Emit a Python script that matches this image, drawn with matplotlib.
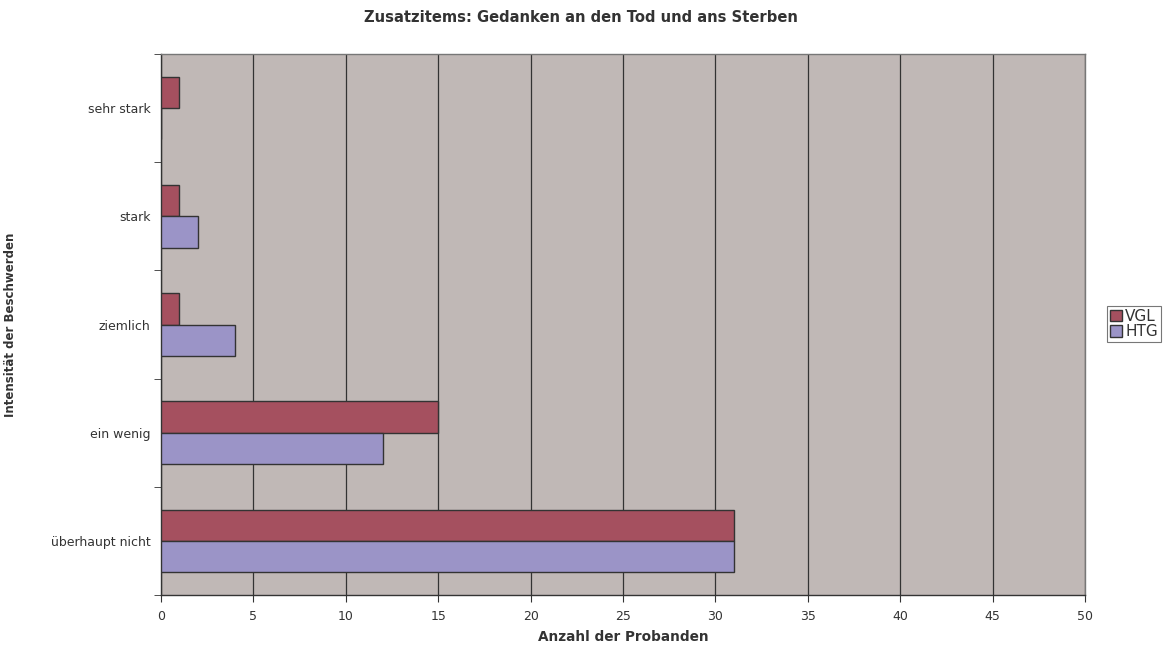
import matplotlib
matplotlib.use("Agg")
import matplotlib.pyplot as plt
import numpy as np
from matplotlib.patches import Patch

plt.rcParams['font.family'] = ['DejaVu Sans']

categories = ["überhaupt nicht", "ein wenig", "ziemlich", "stark", "sehr stark"]
series_names = ["VGL", "HTG"]
vgl = [31, 15, 1, 1, 1]
htg = [31, 12, 4, 2, 0]
x_ticks = [0, 5, 10, 15, 20, 25, 30, 35, 40, 45, 50]

col_vgl = "#A5505F"
col_htg = "#9B94C7"
bg = "#C0B8B6"
txt = "#333333"

fig = plt.figure(figsize=(11.75, 6.51), dpi=100)
ax = fig.add_axes([161/1175, 1-595/651, (1085-161)/1175, (595-54)/651])
ax.set_facecolor(bg)

y = np.arange(len(categories))
h = 0.29
ax.barh(y + h/2, vgl, height=h, color=col_vgl, edgecolor="#333333", linewidth=1.0, zorder=3, label=series_names[0])
ax.barh(y - h/2, htg, height=h, color=col_htg, edgecolor="#333333", linewidth=1.0, zorder=3, label=series_names[1])

ax.set_xlim(0, 50)
ax.set_ylim(-0.5, len(categories) - 0.5)
ax.set_xticks(x_ticks)
ax.set_xticklabels([str(t) for t in x_ticks], fontsize=9, color=txt)
ax.set_yticks(y)
ax.set_yticklabels(categories, fontsize=9, color=txt)
ax.set_yticks(np.arange(len(categories) + 1) - 0.5, minor=True)
ax.tick_params(axis='y', which='major', length=0, pad=7.5)
ax.tick_params(axis='y', which='minor', length=5, color="#333333", direction='out')
ax.tick_params(axis='x', which='major', length=5, color="#333333", direction='out', pad=6)
ax.xaxis.grid(True, color="#333333", linewidth=0.9, zorder=1)
ax.set_axisbelow(True)

for s in ["left", "bottom"]:
    ax.spines[s].set_color("#333333")
    ax.spines[s].set_linewidth(1.0)
for s in ["top", "right"]:
    ax.spines[s].set_color("#777777")
    ax.spines[s].set_linewidth(1.0)

ax.set_xlabel("Anzahl der Probanden", fontsize=9.8, fontweight='bold', color=txt, labelpad=5)
ax.set_ylabel("Intensität der Beschwerden", fontsize=8.5, fontweight='bold', color=txt)
ax.yaxis.set_label_coords(-(161-17)/924, 0.5)

fig.text(581/1175, 1-17/651, "Zusatzitems: Gedanken an den Tod und ans Sterben",
         ha='center', va='center', fontsize=10.6, fontweight='bold', color=txt)

handles = [Patch(facecolor=col_vgl, edgecolor="#333333", label=series_names[0]),
           Patch(facecolor=col_htg, edgecolor="#333333", label=series_names[1])]
leg = fig.legend(handles=handles, loc='center left', bbox_to_anchor=(1107/1175, 1-324/651),
                 fontsize=11, frameon=True, fancybox=False, handlelength=0.75, handleheight=0.75,
                 handletextpad=0.25, borderpad=0.2, labelspacing=0.05, borderaxespad=0)
leg.get_frame().set_edgecolor("#555555")
leg.get_frame().set_linewidth(0.8)
for t in leg.get_texts():
    t.set_color(txt)

fig.savefig("out.png", dpi=100)
